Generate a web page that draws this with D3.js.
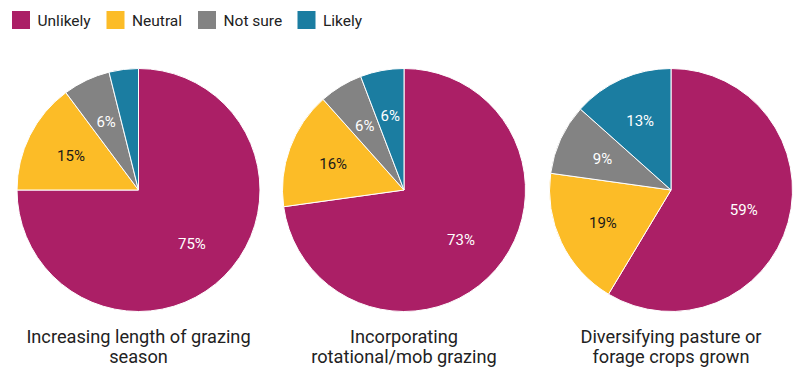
<!DOCTYPE html>
<html>
<head>
<meta charset="utf-8">
<script src="https://cdn.jsdelivr.net/npm/d3@7"></script>
<style>
  html, body { margin: 0; padding: 0; background: #fff; }
  svg { display: block; font-family: Roboto, "Noto Sans", sans-serif; }
</style>
</head>
<body>
<svg id="chart" width="795" height="368"></svg>
<script>
const categories = ["Unlikely", "Neutral", "Not sure", "Likely"];
const colors = ["#AB1F66", "#FCBC27", "#838383", "#1B7DA1"];
const labelColors = ["#ffffff", "#1a1a1a", "#ffffff", "#ffffff"];
const titles = [
  ["Increasing length of grazing", "season"],
  ["Incorporating", "rotational/mob grazing"],
  ["Diversifying pasture or", "forage crops grown"]
];
const pie1Values = [75.0, 14.8, 6.3, 3.9];
const pie2Values = [72.8, 15.6, 5.8, 5.8];
const pie3Values = [58.6, 18.6, 9.4, 13.4];
const pieValues = [pie1Values, pie2Values, pie3Values];

const svg = d3.select("#chart");

// Legend
const legendX = [12, 106.5, 198, 297.5];
const legend = svg.append("g");
categories.forEach((c, i) => {
  const g = legend.append("g").attr("transform", `translate(${legendX[i]},11)`);
  g.append("rect").attr("width", 18).attr("height", 18).attr("fill", colors[i]);
  g.append("text").attr("x", 25.5).attr("y", 14.5)
    .attr("font-size", 15.5).attr("fill", "#222").text(c);
});

const centersX = [138.5, 404, 671];
const cy = 190;
const R = 121.5;
const labelR = 75.5;

const pie = d3.pie().sort(null).value(d => d);
const arc = d3.arc().innerRadius(0).outerRadius(R);
const labelArc = d3.arc().innerRadius(labelR).outerRadius(labelR);
const color = d3.scaleOrdinal().domain(d3.range(4)).range(colors);

pieValues.forEach((vals, k) => {
  const g = svg.append("g").attr("transform", `translate(${centersX[k]},${cy})`);
  const arcs = pie(vals);
  g.selectAll("path").data(arcs).join("path")
    .attr("d", arc)
    .attr("fill", (d, i) => color(i))
    .attr("stroke", "#fff")
    .attr("stroke-width", 1);
  g.selectAll("text").data(arcs.filter(d => d.value >= 5)).join("text")
    .attr("transform", d => `translate(${labelArc.centroid(d)})`)
    .attr("text-anchor", "middle")
    .attr("dy", "0.35em")
    .attr("font-size", 15)
    .attr("fill", d => labelColors[d.index])
    .text(d => Math.round(d.value) + "%");

  const t = svg.append("text")
    .attr("x", centersX[k]).attr("y", 342.5)
    .attr("text-anchor", "middle")
    .attr("font-size", 18.2)
    .attr("fill", "#222");
  titles[k].forEach((line, j) => {
    t.append("tspan").attr("x", centersX[k]).attr("dy", j === 0 ? 0 : 20.5).text(line);
  });
});
</script>
</body>
</html>
